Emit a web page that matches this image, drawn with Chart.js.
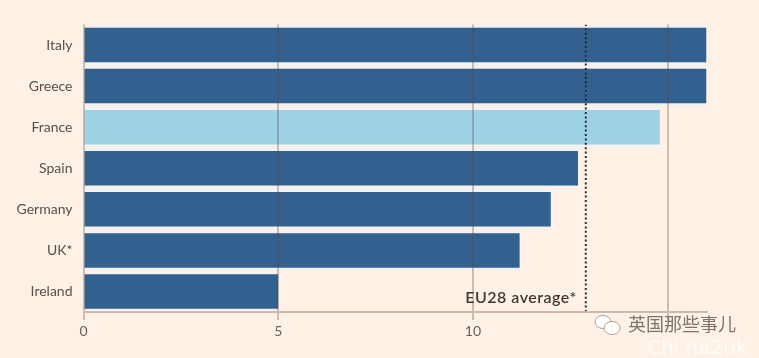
<!DOCTYPE html>
<html>
<head>
<meta charset="utf-8">
<style>html,body{margin:0;padding:0;background:#fff1e5}canvas{display:block}</style>
<script src="https://cdn.jsdelivr.net/npm/chart.js@4"></script>
</head>
<body>
<canvas id="c" width="759" height="358"></canvas>
<script>
const categories = ["Italy","Greece","France","Spain","Germany","UK*","Ireland"];
const values = [16, 16, 14.8, 12.7, 12, 11.2, 5];
const barColors = ["#33618f","#33618f","#9dd3e5","#33618f","#33618f","#33618f","#33618f"];
const gridValues = [0, 5, 10, 15];
const tickLabels = ["0", "5", "10", ""];
const averageValue = 12.9;
const averageLabel = "EU28 average*";
const watermarkTitle = "英国那些事儿";
const watermarkSub = "Chi na2uk";

const annotate = {
  id: 'annotate',
  afterDraw(chart) {
    const {ctx, scales} = chart;
    ctx.save();
    ctx.textBaseline = 'alphabetic';
    ctx.textAlign = 'right';
    ctx.fillStyle = '#3f3833';
    ctx.font = '600 16px Lato';
    ctx.letterSpacing = '0.5px';
    ctx.fillText(averageLabel, scales.x.getPixelForValue(averageValue) - 9, 303);
    ctx.letterSpacing = '0px';
    ctx.textAlign = 'left';
    // watermark logo: two chat bubbles
    ctx.lineWidth = 1;
    ctx.strokeStyle = '#a8a29c';
    ctx.fillStyle = '#ffffff';
    ctx.beginPath(); ctx.ellipse(603, 322, 8, 6.5, 0, 0, Math.PI*2); ctx.fill(); ctx.stroke();
    ctx.beginPath(); ctx.ellipse(612, 328, 8, 6.5, 0, 0, Math.PI*2); ctx.fill(); ctx.stroke();
    ctx.font = '18px "Noto Sans CJK SC"';
    ctx.fillStyle = '#7a7570';
    ctx.fillText(watermarkTitle, 628, 331);
    ctx.font = '20px "DejaVu Sans"';
    ctx.fillStyle = 'rgba(255,255,255,0.85)';
    ctx.fillText(watermarkSub, 647, 354);
    ctx.restore();
  }
};

new Chart(document.getElementById('c'), {
  data: {
    labels: categories,
    datasets: [
      { type:'scatter', xAxisID:'x', yAxisID:'yLine', order:0, showLine:true, pointRadius:0,
        data:[{x:averageValue,y:0},{x:averageValue,y:1}],
        borderColor:'#2b2a2c', borderWidth:2, borderDash:[2,2.4] },
      { type:'bar', xAxisID:'x', yAxisID:'y', order:1, data:values, backgroundColor:barColors,
        barPercentage:0.84, categoryPercentage:1, grouped:false },
      { type:'bar', xAxisID:'x', yAxisID:'y', order:2, data:values, backgroundColor:'#f5f1ee',
        barPercentage:1, categoryPercentage:1, grouped:false }
    ]
  },
  options: {
    indexAxis:'y',
    responsive:false,
    animation:false,
    events:[],
    layout:{padding:{top:24.5,right:52.5,bottom:0,left:0}},
    plugins:{legend:{display:false},tooltip:{enabled:false}},
    scales:{
      x:{
        type:'linear', min:0, max:16, position:'bottom',
        afterFit(s){ s.height = 46; },
        afterBuildTicks(s){ s.ticks = gridValues.map(v=>({value:v})); },
        border:{color:'#c9bdb2',width:2,z:1},
        grid:{color:'rgba(90,70,60,0.3)',lineWidth:2,z:1,tickLength:8,drawTicks:true},
        ticks:{font:{family:'Lato',size:14},color:'#66605b',padding:3,maxRotation:0,
          callback(v){ return tickLabels[gridValues.indexOf(v)]; }}
      },
      y:{
        type:'category', position:'left',
        afterFit(s){ s.width = 83.5; },
        border:{display:false},
        grid:{display:false},
        ticks:{font:{family:'Lato',size:14},color:'#56504b',padding:3}
      },
      yLine:{ type:'linear', min:0, max:1, display:false }
    }
  },
  plugins:[annotate]
});
</script>
</body>
</html>
